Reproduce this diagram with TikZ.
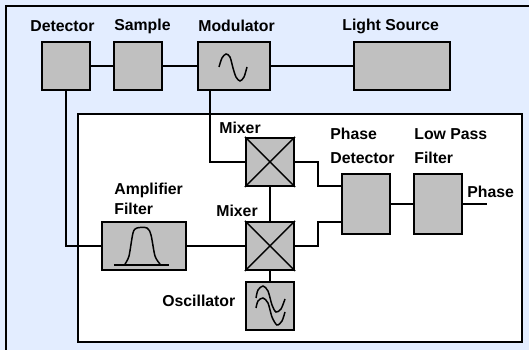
\documentclass[tikz,border=0pt]{standalone}
\usepackage{fontspec}
\setmainfont{Liberation Sans}
\usepackage{tikz}
\usetikzlibrary{positioning, calc}
\definecolor{PanelBlue}{HTML}{E3EDFF}
\definecolor{BoxGrey}{HTML}{C0C0C0}
\tikzset{
  blockbox/.style={draw, line width=1.15pt, fill=BoxGrey, inner sep=0pt},
  caption/.style={font=\fontsize{9}{11}\selectfont\bfseries, inner sep=0pt, anchor=west, align=left},
  wire/.style={line width=0.95pt},
  wave/.style={line width=0.85pt}
}
\begin{document}
\begin{tikzpicture}[x=0.02cm, y=-0.02cm]
  \useasboundingbox (0,0) rectangle (529,350);
  % Panels
  \fill[PanelBlue] (0,0) rectangle (529,350);
  \draw[line width=1.15pt] (529,6) -- (6,6) -- (6,350);
  \draw[line width=1.15pt, fill=white] (78,114) rectangle (522,342);
  % Top row
  \node[blockbox, minimum width=0.96cm, minimum height=0.96cm] (detector) at (66,66) {};
  \node[blockbox, minimum width=0.96cm, minimum height=0.96cm] (sample) at (138,66) {};
  \node[blockbox, minimum width=1.44cm, minimum height=0.96cm] (modulator) at (234,66) {};
  \node[blockbox, minimum width=1.92cm, minimum height=0.96cm] (lightsource) at (402,66) {};
  % Lock-in blocks
  \node[blockbox, minimum width=1.68cm, minimum height=0.96cm] (ampfilter) at (144,246) {};
  \node[blockbox, minimum width=0.96cm, minimum height=0.96cm] (mixertop) at (270,162) {};
  \node[blockbox, minimum width=0.96cm, minimum height=0.96cm] (mixerbot) at (270,246) {};
  \node[blockbox, minimum width=0.96cm, minimum height=0.96cm] (oscillator) at (270,306) {};
  \node[blockbox, minimum width=0.96cm, minimum height=1.2cm] (phasedet) at (366,204) {};
  \node[blockbox, minimum width=0.96cm, minimum height=1.2cm] (lowpass) at (438,204) {};
  \coordinate (modout) at (210,90);
  \coordinate (phaseout) at (487,204);
  \coordinate (topbend) at (318,186);
  \coordinate (botbend) at (318,222);
  % Connectors
  \draw[wire] (detector) -- (sample);
  \draw[wire] (sample) -- (modulator);
  \draw[wire] (modulator) -- (lightsource);
  \draw[wire] (detector.south) |- (ampfilter.west);
  \draw[wire] (modout) |- (mixertop.west);
  \draw[wire] (ampfilter) -- (mixerbot);
  \draw[wire] (mixertop) -- (mixerbot);
  \draw[wire] (mixerbot) -- (oscillator);
  \draw[wire] (mixertop.east) -| (topbend) -- (topbend -| phasedet.west);
  \draw[wire] (mixerbot.east) -| (botbend) -- (botbend -| phasedet.west);
  \draw[wire] (phasedet) -- (lowpass);
  \draw[wire] (lowpass) -- (phaseout);
  % Mixer crosses
  \draw[line width=0.8pt] (mixertop.north west) -- (mixertop.south east);
  \draw[line width=0.8pt] (mixertop.north east) -- (mixertop.south west);
  \draw[line width=0.8pt] (mixerbot.north west) -- (mixerbot.south east);
  \draw[line width=0.8pt] (mixerbot.north east) -- (mixerbot.south west);
  % Waveforms
  \draw[wave] plot[smooth] coordinates
    {(219,67) (222,58) (226,54) (230,57) (233,68) (236,77) (240,81) (244,77) (247,67)};
  \draw[wave] (114,265) -- (169,265);
  \draw[wave] plot[smooth] coordinates
    {(125,264) (129,256) (133,233) (137,228) (147,228) (151,235) (155,256) (160,264)};
  \draw[wave] plot[smooth] coordinates
    {(256,298) (258,290) (263,286) (268,291) (272,305) (276,312) (281,309) (285,299)};
  \draw[wave] plot[smooth] coordinates
    {(256,308) (258,301) (263,298) (268,303) (272,317) (277,325) (282,321) (285,312)};
  % Labels
  \node[caption] (lbldet) at (30,26) {Detector};
  \node[caption] (lblsam) at (114,26) {Sample};
  \node[caption] (lblmod) at (198,26) {Modulator};
  \node[caption] (lbllig) at (342,26) {Light Source};
  \node[caption] (lblmxt) at (219,128) {Mixer};
  \node[caption] (lblpha) at (330,134) {Phase};
  \node[caption] (lbldtc) at (330,158) {Detector};
  \node[caption] (lbllow) at (414,134) {Low Pass};
  \node[caption] (lblfil) at (414,158) {Filter};
  \node[caption] (lblamp) at (114,190) {Amplifier};
  \node[caption] (lblflt) at (114,209) {Filter};
  \node[caption] (lblmxb) at (216,211) {Mixer};
  \node[caption] (lblosc) at (162,301) {Oscillator};
  \node[caption] (lblout) at (467,192) {Phase};
\end{tikzpicture}
\end{document}
